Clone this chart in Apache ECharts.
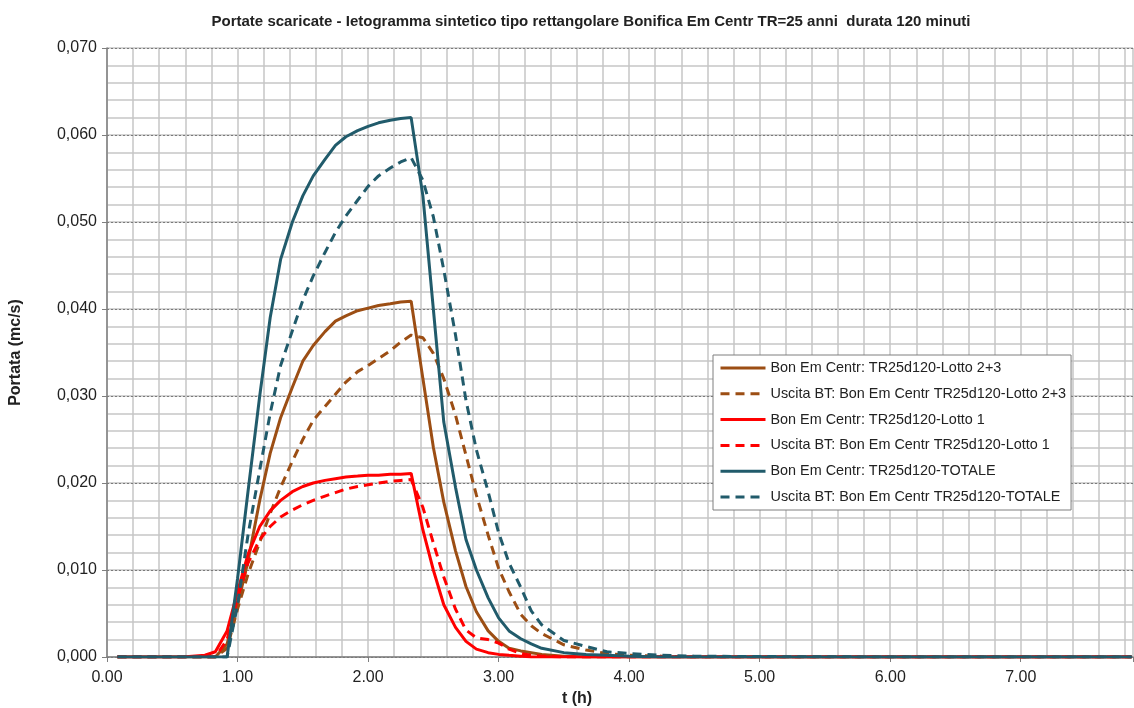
<!DOCTYPE html>
<html>
<head>
<meta charset="utf-8">
<script src="https://cdn.jsdelivr.net/npm/echarts@6/dist/echarts.min.js"></script>
<style>
  html, body { margin: 0; padding: 0; background: #fff; }
  #chart { width: 1134px; height: 708px; }
</style>
</head>
<body>
<div id="chart"></div>
<script>
// tempo (h)
var ore = [0.08, 0.58, 0.75, 0.83, 0.92, 1.00, 1.08, 1.17, 1.25, 1.33, 1.42, 1.50, 1.58, 1.67, 1.75,
  1.83, 1.92, 2.00, 2.08, 2.17, 2.25, 2.33, 2.42, 2.50, 2.58, 2.67, 2.75, 2.83, 2.92, 3.00,
  3.08, 3.17, 3.25, 3.33, 3.50, 3.67, 3.83, 4.00, 4.25, 4.50, 5.00, 6.00, 7.85];

// portate (mc/s)
var lotto23 = [0, 0, 0, 0, 0.0015, 0.006, 0.011, 0.018, 0.0234, 0.0275, 0.031, 0.034, 0.0358, 0.0374, 0.0386,
  0.0392, 0.0398, 0.0401, 0.0404, 0.0406, 0.0408, 0.0409, 0.032, 0.0241, 0.0178, 0.0122, 0.0081, 0.0052, 0.003, 0.0018,
  0.001, 0.0007, 0.0005, 0.0003, 0.0001, 0, 0, 0, 0, 0, 0, 0, 0];
var uscita23 = [0, 0, 0, 0, 0.001, 0.0055, 0.0095, 0.0132, 0.0165, 0.0195, 0.0225, 0.025, 0.0272, 0.0288, 0.0302,
  0.0316, 0.0328, 0.0335, 0.0343, 0.0352, 0.0362, 0.037, 0.0367, 0.0349, 0.032, 0.0278, 0.0232, 0.0186, 0.014, 0.0102,
  0.0075, 0.0049, 0.0036, 0.0027, 0.0014, 0.0008, 0.0004, 0.0002, 0.0001, 0, 0, 0, 0];
var lotto1 = [0, 0, 0.0002, 0.0006, 0.003, 0.0075, 0.0118, 0.015, 0.0168, 0.018, 0.019, 0.0196, 0.02, 0.0203, 0.0205,
  0.0207, 0.0208, 0.0209, 0.0209, 0.021, 0.021, 0.0211, 0.0146, 0.01, 0.006, 0.0034, 0.0018, 0.0009, 0.0005, 0.0003,
  0.0002, 0.0001, 0, 0, 0, 0, 0, 0, 0, 0, 0, 0, 0];
var uscita1 = [0, 0, 0, 0, 0.002, 0.0068, 0.0108, 0.0135, 0.015, 0.0161, 0.0169, 0.0175, 0.018, 0.0185, 0.0189,
  0.0193, 0.0196, 0.0198, 0.02, 0.0202, 0.0203, 0.0204, 0.0172, 0.0131, 0.0092, 0.0055, 0.0031, 0.0022, 0.002, 0.0016,
  0.0009, 0.0004, 0.0002, 0.0001, 0, 0, 0, 0, 0, 0, 0, 0, 0];
var totale = [0, 0, 0, 0, 0, 0.009, 0.019, 0.03, 0.039, 0.0457, 0.05, 0.053, 0.0553, 0.0572, 0.0588,
  0.0598, 0.0605, 0.061, 0.0614, 0.0617, 0.0619, 0.062, 0.053, 0.04, 0.027, 0.0195, 0.0135, 0.01, 0.0068, 0.0045,
  0.003, 0.0021, 0.0015, 0.001, 0.0005, 0.0003, 0.0002, 0.0001, 0, 0, 0, 0, 0];
var uscitaTot = [0, 0, 0, 0, 0, 0.006, 0.014, 0.0215, 0.028, 0.0335, 0.0375, 0.041, 0.0438, 0.0465, 0.0488,
  0.0507, 0.0525, 0.0541, 0.0553, 0.0562, 0.0569, 0.0574, 0.0548, 0.0506, 0.0445, 0.037, 0.0295, 0.0238, 0.019, 0.0143,
  0.0108, 0.008, 0.0053, 0.0037, 0.0019, 0.0012, 0.0006, 0.0004, 0.0002, 0.0001, 0.00005, 0, 0];

var nomi = [
  'Bon Em Centr: TR25d120-Lotto 2+3',
  'Uscita BT: Bon Em Centr TR25d120-Lotto 2+3',
  'Bon Em Centr: TR25d120-Lotto 1',
  'Uscita BT: Bon Em Centr TR25d120-Lotto 1',
  'Bon Em Centr: TR25d120-TOTALE',
  'Uscita BT: Bon Em Centr TR25d120-TOTALE'
];

var font = '"Liberation Sans", Arial, sans-serif';
var marrone = '#9c4e14';
var rosso = '#ff0000';
var petrolio = '#215b6b';

function serie(nome, valori, colore, tratteggio) {
  return {
    name: nome,
    type: 'line',
    xAxisIndex: 1,
    yAxisIndex: 0,
    symbol: 'none',
    showSymbol: false,
    smooth: false,
    lineStyle: { color: colore, width: 3, type: tratteggio ? [9, 6] : 'solid' },
    itemStyle: { color: colore },
    data: ore.map(function (t, i) { return [t, valori[i]]; })
  };
}

var myChart = echarts.init(document.getElementById('chart'));
var option = {
  animation: false,
  backgroundColor: '#fff',
  textStyle: { fontFamily: font },
  title: {
    text: 'Portate scaricate - Ietogramma sintetico tipo rettangolare Bonifica Em Centr TR=25 anni  durata 120 minuti',
    left: 586,
    textAlign: 'center',
    top: 9,
    textStyle: { fontSize: 15, fontWeight: 'bold', color: '#222', fontFamily: font }
  },
  grid: { left: 107, right: 1, top: 48, bottom: 51, outerBoundsMode: 'none', containLabel: false },
  legend: {
    orient: 'vertical',
    left: 713,
    top: 355,
    backgroundColor: '#fff',
    borderColor: '#7f7f7f',
    borderWidth: 1,
    padding: [6, 5, 6, 6],
    itemWidth: 45,
    itemHeight: 14,
    itemGap: 11.8,
    itemStyle: { opacity: 0 },
    lineStyle: { width: 3 },
    textStyle: { fontSize: 14.4, lineHeight: 14, color: '#222', fontFamily: font },
    data: nomi
  },
  xAxis: [
    {
      type: 'value', min: 0, max: 7.86, interval: 0.2,
      axisLine: { show: false }, axisTick: { show: false }, axisLabel: { show: false },
      splitLine: { show: true, lineStyle: { color: '#c6c6c6', width: 1.5 } }
    },
    {
      type: 'value', min: 0, max: 7.86, interval: 1, position: 'bottom',
      name: 't (h)', nameLocation: 'middle', nameGap: 31,
      nameTextStyle: { fontSize: 16, fontWeight: 'bold', color: '#222', fontFamily: font, padding: [0, 86, 0, 0] },
      axisLine: { show: true, lineStyle: { color: '#7f7f7f', width: 1.5 } },
      axisTick: { show: true, length: 5, lineStyle: { color: '#7f7f7f' } },
      axisLabel: {
        fontSize: 16, color: '#222', margin: 13,
        formatter: function (v) { return Math.abs(v - Math.round(v)) < 1e-6 ? v.toFixed(2) : ''; }
      },
      splitLine: { show: false }
    }
  ],
  yAxis: [
    {
      type: 'value', min: 0, max: 0.07, interval: 0.01, z: 1,
      name: 'Portata (mc/s)', nameLocation: 'middle', nameGap: 83,
      nameTextStyle: { fontSize: 16, fontWeight: 'bold', color: '#222', fontFamily: font },
      axisLine: { show: true, lineStyle: { color: '#7f7f7f', width: 1.5 } },
      axisTick: { show: true, length: 5, lineStyle: { color: '#7f7f7f' } },
      axisLabel: {
        fontSize: 16, color: '#222', margin: 10,
        formatter: function (v) { return v.toFixed(3).replace('.', ','); }
      },
      splitLine: { show: true, lineStyle: { color: '#7a7a7a', width: 1, type: [2, 2] } }
    },
    {
      type: 'value', min: 0, max: 0.07, interval: 0.002, z: 0,
      axisLine: { show: false }, axisTick: { show: false }, axisLabel: { show: false },
      splitLine: { show: true, lineStyle: { color: '#c6c6c6', width: 1.5 } }
    }
  ],
  series: [
    serie(nomi[0], lotto23, marrone, false),
    serie(nomi[1], uscita23, marrone, true),
    serie(nomi[2], lotto1, rosso, false),
    serie(nomi[3], uscita1, rosso, true),
    serie(nomi[4], totale, petrolio, false),
    serie(nomi[5], uscitaTot, petrolio, true)
  ]
};
myChart.setOption(option);
</script>
</body>
</html>
